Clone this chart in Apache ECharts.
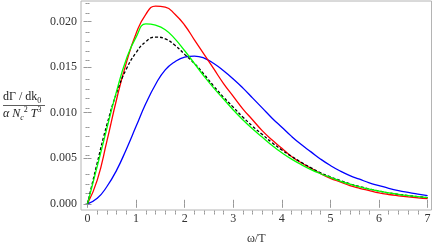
<!DOCTYPE html>
<html><head><meta charset="utf-8">
<script src="https://cdn.jsdelivr.net/npm/echarts@6/dist/echarts.min.js"></script>
<style>html,body{margin:0;padding:0;background:#fff}#c{width:436px;height:250px}</style>
</head><body><div id="c"></div>
<script>
// ---- data ----
const omega = [0,0.2,0.4,0.6,0.8,1.0,1.2,1.4,1.6,1.8,2.0,2.2,2.4,2.6,2.8,3.0,3.2,3.4,3.6,3.8,4.0,4.2,4.4,4.6,4.8,5.0,5.2,5.4,5.6,5.8,6.0,6.2,6.4,6.6,6.8,7.0];
const rateRed   = [0,0.0026,0.0069,0.0115,0.0155,0.0187,0.0208,0.0217,0.0216,0.0208,0.0196,0.0180,0.0164,0.0148,0.0132,0.0118,0.0104,0.0092,0.0080,0.0070,0.0061,0.0052,0.0045,0.0039,0.0033,0.0028,0.0024,0.0020,0.0017,0.00145,0.0012,0.00102,0.00088,0.00076,0.00066,0.00058];
const rateGreen = [0,0.0041,0.0083,0.0124,0.0159,0.0183,0.01975,0.0196,0.0191,0.0181,0.0168,0.0154,0.0140,0.0127,0.0115,0.0103,0.0092,0.0082,0.0073,0.0064,0.0056,0.0049,0.0043,0.00375,0.0033,0.0029,0.0025,0.00215,0.00185,0.0016,0.0014,0.0012,0.00104,0.0009,0.00078,0.00068];
const rateBlack = [0,0.0045,0.0087,0.0122,0.0148,0.0166,0.0178,0.0183,0.0181,0.0174,0.0164,0.0154,0.0142,0.0129,0.0117,0.0106,0.0095,0.0085,0.0076,0.0067,0.0059,0.0052,0.00455,0.00395,0.0034,0.00295,0.00255,0.0022,0.0019,0.00163,0.0014,0.0012,0.00104,0.0009,0.00078,0.00068];
const rateBlue  = [0,0.0006,0.0019,0.0037,0.0060,0.0085,0.0110,0.0131,0.0147,0.0156,0.0161,0.01622,0.0160,0.0154,0.0146,0.0137,0.0127,0.0116,0.0105,0.0094,0.0084,0.0074,0.0065,0.0057,0.0049,0.0042,0.0036,0.0031,0.0027,0.0023,0.0020,0.0017,0.00145,0.00125,0.00107,0.0009];
const xTickValues = [0,1,2,3,4,5,6,7];
const xTickLabels = ['0','1','2','3','4','5','6','7'];
const yTickValues = [0,0.005,0.010,0.015,0.020];
const yTickLabels = ['0.000','0.005','0.010','0.015','0.020'];

// ---- layout ----
const X_MIN = -0.134, X_MAX = 7.08, Y_MIN = -0.00068, Y_MAX = 0.02226;
const xMinor = []; for (let i = 0; i <= 35; i++) { if (i % 5) xMinor.push(i / 5); }
const yMinor = []; for (let i = 0; i <= 22; i++) { if (i % 5) yMinor.push(i / 1000); }
const SERIF = 'Liberation Serif';
const tickColor = '#999';
const gridRect = {left: 81, right: 4.5, top: 1, bottom: 31};

function xAx(gi, pos, ticks, len, labels) {
  return {type:'value', gridIndex:gi, position:pos, min:X_MIN, max:X_MAX,
    axisLine:{show:false}, splitLine:{show:false},
    axisTick:{show:true, inside:true, length:len, customValues:ticks, lineStyle:{color:tickColor, width:1}},
    axisLabel: labels ? {show:true, customValues:xTickValues, formatter:v=>xTickLabels[xTickValues.indexOf(Math.round(v))],
      fontFamily:SERIF, fontSize:12, color:'#333', margin:3} : {show:false}};
}
function yAx(gi, pos, ticks, len, labels) {
  return {type:'value', gridIndex:gi, position:pos, min:Y_MIN, max:Y_MAX,
    axisLine:{show:false}, splitLine:{show:false},
    axisTick:{show:true, inside:true, length:len, customValues:ticks, lineStyle:{color:tickColor, width:1}},
    axisLabel: labels ? {show:true, customValues:yTickValues,
      formatter:v=>{let k=yTickValues.findIndex(t=>Math.abs(t-v)<1e-9);return k>=0?yTickLabels[k]:'';},
      fontFamily:SERIF, fontSize:12, color:'#333', margin:4} : {show:false}};
}
const xa0 = xAx(0,'bottom',xTickValues,4,true);
xa0.name = 'ω/T'; xa0.nameLocation = 'middle'; xa0.nameGap = 23;
xa0.nameTextStyle = {fontFamily:SERIF, fontSize:12, color:'#333'};

function mk(vals){ return omega.map((w,i)=>[w, vals[i]]); }
function line(vals, color, dashed){
  return {type:'line', xAxisIndex:0, yAxisIndex:0, data:mk(vals), showSymbol:false, smooth:0.5,
    lineStyle:{color:color, width:1.3, type: dashed ? [3,2] : 'solid'}, itemStyle:{color:color}, silent:true};
}

const chart = echarts.init(document.getElementById('c'), null, {renderer:'canvas'});
chart.setOption({
  animation:false,
  grid:[Object.assign({show:true, borderColor:'#b4b4b4', borderWidth:1, backgroundColor:'transparent'}, gridRect),
        Object.assign({show:false}, gridRect)],
  xAxis:[xa0, xAx(0,'top',xTickValues,4,false), xAx(1,'bottom',xMinor,2,false), xAx(1,'top',xMinor,2,false)],
  yAxis:[yAx(0,'left',yTickValues,4,true), yAx(0,'right',yTickValues,4,false), yAx(1,'left',yMinor,2,false), yAx(1,'right',yMinor,2,false)],
  series:[
    line(rateBlue,'#0000ff',false),
    line(rateRed,'#ff0000',false),
    line(rateBlack,'#000000',true),
    line(rateGreen,'#00ff00',false)
  ],
  graphic:[
    {type:'text', left:3, top:91, style:{text:'{m|dΓ / dk}{s|0}', rich:{
      m:{fontFamily:SERIF, fontSize:12, lineHeight:16, verticalAlign:'middle', fill:'#222'},
      s:{fontFamily:SERIF, fontSize:8, lineHeight:16, verticalAlign:'bottom', fill:'#222'}}}},
    {type:'line', shape:{x1:3, y1:105.5, x2:45, y2:105.5}, style:{stroke:'#333', lineWidth:0.8}},
    {type:'text', left:3, top:106, style:{text:'{i|α N}{s|c}{p|2}{i| T}{p|3}', rich:{
      i:{fontFamily:SERIF, fontStyle:'italic', fontSize:12, lineHeight:16, verticalAlign:'middle', fill:'#222'},
      s:{fontFamily:SERIF, fontStyle:'italic', fontSize:8, lineHeight:16, verticalAlign:'bottom', fill:'#222'},
      p:{fontFamily:SERIF, fontSize:8, lineHeight:16, verticalAlign:'top', fill:'#222'}}}}
  ]
});
</script></body></html>
